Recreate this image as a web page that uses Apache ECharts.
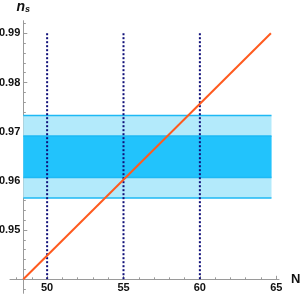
<!DOCTYPE html>
<html>
<head>
<meta charset="utf-8">
<script src="https://cdn.jsdelivr.net/npm/echarts@6/dist/echarts.min.js"></script>
<style>html,body{margin:0;padding:0;background:#fff}#c{width:300px;height:295px}</style>
</head>
<body>
<div id="c"></div>
<script>
// ---- data ----
const lineN = [48.44, 64.65];
const lineNs = [0.94, 0.99];
const bandN = [48.44, 64.69];
const sigma2 = [0.9565, 0.9733];
const sigma1 = [0.9607, 0.9691];
const vlineN = [50, 55, 60];
const vlineNs = [0.94, 0.99];
const xTicks = [50, 55, 60, 65];
const xMinorTicks = [48, 49, 51, 52, 53, 54, 56, 57, 58, 59, 61, 62, 63, 64];
const yTicks = [0.95, 0.96, 0.97, 0.98, 0.99];
const yMinorTicks = [0.938, 0.942, 0.944, 0.946, 0.948, 0.952, 0.954, 0.956, 0.958,
  0.962, 0.964, 0.966, 0.968, 0.972, 0.974, 0.976, 0.978, 0.982, 0.984, 0.986, 0.988, 0.992];
const xRange = [47.57, 65.18];
const yRange = [0.93713, 0.99256];

const FONT = 'Liberation Sans';
const AX = '#9a9a9a';

const chart = echarts.init(document.getElementById('c'), null, {renderer: 'canvas'});

function hLine(y, color, w) {
  return {
    type: 'line', xAxisIndex: 0, yAxisIndex: 0, symbol: 'none', silent: true,
    data: [[bandN[0], y], [bandN[1], y]],
    lineStyle: {color: color, width: w}, z: 3
  };
}

const series = [];
// band fills
series.push({
  type: 'line', xAxisIndex: 0, yAxisIndex: 0, symbol: 'none', silent: true,
  data: [[bandN[0], sigma2[0]], [bandN[1], sigma2[0]]],
  lineStyle: {color: '#1db9f4', width: 1.5}, z: 3,
  markArea: {
    silent: true,
    data: [
      [{coord: [bandN[0], sigma2[0]], itemStyle: {color: '#b3eafb', opacity: 1}}, {coord: [bandN[1], sigma2[1]]}],
      [{coord: [bandN[0], sigma1[0]], itemStyle: {color: '#22c3fc', opacity: 1}}, {coord: [bandN[1], sigma1[1]]}]
    ]
  }
});
series.push(hLine(sigma2[1], '#1db9f4', 1.5));
series.push(hLine(sigma1[0], '#1db9f4', 1.5));
series.push(hLine(sigma1[1], '#1db9f4', 1.5));
// vertical dotted lines
vlineN.forEach(n => {
  series.push({
    type: 'line', xAxisIndex: 0, yAxisIndex: 0, symbol: 'none', silent: true,
    data: [[n, vlineNs[0]], [n, vlineNs[1]]],
    lineStyle: {color: '#10107a', width: 2, type: [2, 2]}, z: 4
  });
});
// main line
series.push({
  type: 'line', xAxisIndex: 0, yAxisIndex: 0, symbol: 'none', silent: true,
  data: lineN.map((n, i) => [n, lineNs[i]]),
  lineStyle: {color: '#ff5a1e', width: 2}, z: 5
});

const labelStyle = {color: '#111', fontFamily: FONT, fontWeight: 'bold', fontSize: 11};

chart.setOption({
  animation: false,
  grid: {left: 10, right: 21, top: 20.7, bottom: 1.7, containLabel: false, outerBoundsMode: 'none'},
  xAxis: [
    {
      type: 'value', min: xRange[0], max: xRange[1], position: 'bottom', offset: -14,
      splitLine: {show: false},
      axisLine: {show: true, lineStyle: {color: AX, width: 1}},
      axisTick: {show: true, inside: true, length: 3.5, customValues: xTicks, lineStyle: {color: AX}},
      axisLabel: Object.assign({customValues: xTicks, margin: 3}, labelStyle),
      name: 'N', nameLocation: 'end', nameGap: 12,
      nameTextStyle: {color: '#111', fontFamily: FONT, fontWeight: 'bold', fontSize: 13, verticalAlign: 'middle'}
    },
    {
      type: 'value', min: xRange[0], max: xRange[1], position: 'bottom', offset: -14,
      splitLine: {show: false},
      axisLine: {show: false},
      axisTick: {show: true, inside: true, length: 2, customValues: xMinorTicks, lineStyle: {color: AX}},
      axisLabel: {show: false}
    }
  ],
  yAxis: [
    {
      type: 'value', min: yRange[0], max: yRange[1], position: 'left', offset: -13.3,
      splitLine: {show: false},
      axisLine: {show: true, lineStyle: {color: AX, width: 1}},
      axisTick: {show: true, inside: true, length: 4, customValues: yTicks, lineStyle: {color: AX}},
      axisLabel: Object.assign({customValues: yTicks, margin: 3, formatter: v => v.toFixed(2)}, labelStyle),
      name: '{n|n}{s|s}', nameLocation: 'end', nameGap: 7,
      nameTextStyle: {
        rich: {
          n: {fontFamily: FONT, fontWeight: 'bold', fontStyle: 'italic', fontSize: 14, color: '#111'},
          s: {fontFamily: FONT, fontWeight: 'bold', fontStyle: 'italic', fontSize: 9, color: '#111', verticalAlign: 'bottom', padding: [4, 0, 0, 0]}
        }
      }
    },
    {
      type: 'value', min: yRange[0], max: yRange[1], position: 'left', offset: -13.3,
      splitLine: {show: false},
      axisLine: {show: false},
      axisTick: {show: true, inside: true, length: 2.5, customValues: yMinorTicks, lineStyle: {color: AX}},
      axisLabel: {show: false}
    }
  ],
  series: series
});
</script>
</body>
</html>
